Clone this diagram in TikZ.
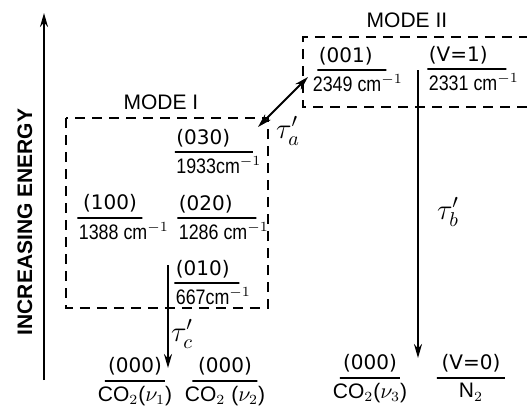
\documentclass[tikz,border=0pt]{standalone}
\usepackage{fontspec}
\setmainfont{Liberation Sans}
\newfontfamily\statefont{DejaVu Sans}
\newfontfamily\numfont[FakeStretch=0.85]{Liberation Sans}
\usetikzlibrary{positioning}
\usetikzlibrary{arrows.meta}

\begin{document}
\begin{tikzpicture}[
    x=0.5pt, y=-0.5pt,
    font=\fontsize{9.5}{11}\selectfont,
    level/.style={
        draw,
        line width=1pt,
        inner sep=0pt,
        minimum height=0pt,
        minimum width=#1,
    },
    state/.style={inner sep=1pt, font=\statefont\fontsize{10}{12}\selectfont},
    energy/.style={inner sep=1pt, font=\numfont\fontsize{10.5}{12}\selectfont},
    ground/.style={inner sep=1pt, font=\fontsize{10.5}{12}\selectfont},
    modebox/.style={draw, line width=1pt, dash pattern=on 5pt off 3.5pt},
    decay/.style={draw, line width=1pt, -{Stealth[length=7pt,width=4pt]}},
    rate/.style={font=\Large},
]
\useasboundingbox (0,0) rectangle (527,414);

% energy axis
\coordinate (axisbot) at (44,380);
\coordinate (axistop) at (44,13);
\draw[decay] (axisbot) -- (axistop);
\node[rotate=90, font=\bfseries\fontsize{10.5}{12}\selectfont] (axislabel) at (25,222) {INCREASING ENERGY};

% mode boxes
\draw[modebox] (66,118) rectangle (268,308);
\node (mode1) at (161,102) {\fontsize{10.5}{12}\selectfont MODE I};
\draw[modebox] (527,107) -- (303,107) -- (303,37) -- (527,37);
\node (mode2) at (407,20) {\fontsize{10.5}{12}\selectfont MODE II};

% mode II levels
\node[level=34.5pt] (v001) at (352,70) {};
\node[state, above=1pt of v001.west, anchor=south west] (t001) {(001)};
\node[energy, below=1pt of v001.west, anchor=north west, xshift=-3pt] (b001) {2349 cm$^{-1}$};
\node[level=39.5pt] (vn1) at (467,69) {};
\node[state, above=1pt of vn1.west, anchor=south west] (tn1) {(V=1)};
\node[energy, below=1pt of vn1.west, anchor=north west] (bn1) {2331 cm$^{-1}$};

% mode I levels
\node[level=39pt] (v030) at (214,152) {};
\node[state, above=1pt of v030.west, anchor=south west] (t030) {(030)};
\node[energy, below=1pt of v030.west, anchor=north west] (b030) {1933cm$^{-1}$};
\node[level=32.5pt] (v100) at (110,218) {};
\node[state, above=1pt of v100] (t100) {(100)};
\node[energy, below=1pt of v100.west, anchor=north west] (b100) {1388 cm$^{-1}$};
\node[level=39.5pt] (v020) at (217,218) {};
\node[state, above=1pt of v020.west, anchor=south west] (t020) {(020)};
\node[energy, below=1pt of v020.west, anchor=north west] (b020) {1286 cm$^{-1}$};
\node[level=32.5pt] (v010) at (207,283) {};
\node[state, above=1pt of v010.west, anchor=south west] (t010) {(010)};
\node[energy, below=1pt of v010.west, anchor=north west] (b010) {667cm$^{-1}$};

% ground levels
\node[level=30pt] (g1) at (135,381) {};
\node[state, above=1pt of g1] (tg1) {(000)};
\node[ground, below=1pt of g1] (bg1) {CO$_2$($\nu_1$)};
\node[level=32.5pt] (g2) at (225,381) {};
\node[state, above=1pt of g2] (tg2) {(000)};
\node[ground, below=1pt of g2] (bg2) {CO$_2$ ($\nu_2$)};
\node[level=30pt] (g3) at (370,378) {};
\node[state, above=1pt of g3] (tg3) {(000)};
\node[ground, below=1pt of g3] (bg3) {CO$_2$($\nu_3$)};
\node[level=34pt] (gn) at (471,378) {};
\node[state, above=1pt of gn] (tgn) {(V=0)};
\node[ground, below=1pt of gn] (bgn) {N$_2$};

% relaxation paths
\coordinate (astart) at (308,77);
\coordinate (aend) at (258,127);
\draw[decay, {Stealth[length=7pt,width=4pt]}-{Stealth[length=7pt,width=4pt]}] (astart) -- (aend);
\node[rate] (taua) at (288,131) {$\tau'_a$};
\coordinate (bstart) at (418,70);
\coordinate (bend) at (418,358);
\draw[decay] (bstart) -- (bend);
\node[rate] (taub) at (448,212) {$\tau'_b$};
\coordinate (cstart) at (168,265);
\coordinate (cend) at (168,368);
\draw[decay] (cstart) -- (cend);
\node[rate] (tauc) at (182,334) {$\tau'_c$};

\end{tikzpicture}
\end{document}
